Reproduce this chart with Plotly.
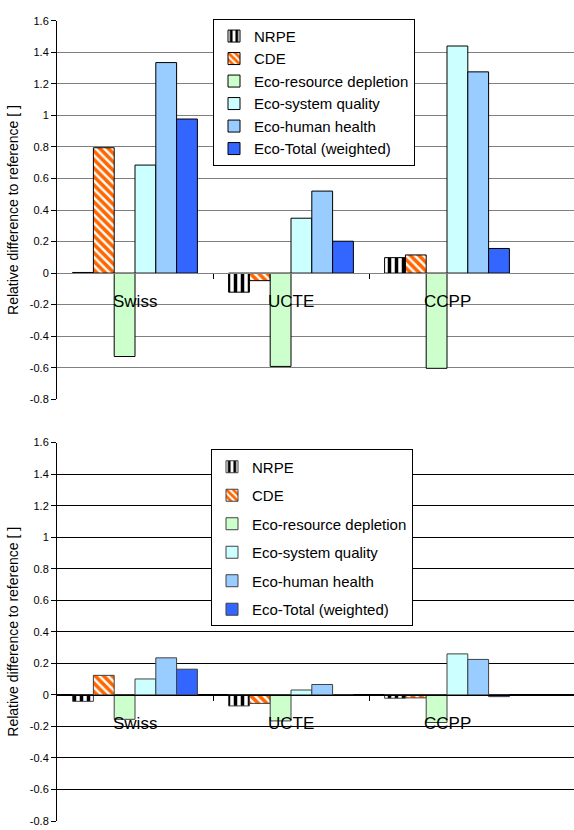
import plotly.graph_objects as go

categories = ["Swiss", "UCTE", "CCPP"]
series_names = ["NRPE", "CDE", "Eco-resource depletion", "Eco-system quality",
                "Eco-human health", "Eco-Total (weighted)"]

# top chart values (per series, Swiss/UCTE/CCPP)
top_values = {
    "NRPE": [0.004, -0.121, 0.098],
    "CDE": [0.795, -0.048, 0.115],
    "Eco-resource depletion": [-0.529, -0.592, -0.604],
    "Eco-system quality": [0.685, 0.348, 1.44],
    "Eco-human health": [1.335, 0.52, 1.276],
    "Eco-Total (weighted)": [0.977, 0.202, 0.156],
}
# bottom chart values
bottom_values = {
    "NRPE": [-0.041, -0.070, -0.021],
    "CDE": [0.124, -0.054, -0.019],
    "Eco-resource depletion": [-0.155, -0.165, -0.175],
    "Eco-system quality": [0.101, 0.031, 0.260],
    "Eco-human health": [0.235, 0.066, 0.225],
    "Eco-Total (weighted)": [0.163, -0.003, -0.011],
}
y_ticks = [-0.8, -0.6, -0.4, -0.2, 0, 0.2, 0.4, 0.6, 0.8, 1, 1.2, 1.4, 1.6]

styles = {
    "NRPE": dict(color="white", pattern=dict(shape="|", fgcolor="black", bgcolor="white",
                                            size=7, solidity=0.5, fillmode="replace")),
    "CDE": dict(color="white", pattern=dict(shape="\\", fgcolor="#FF6600", bgcolor="white",
                                           size=6, solidity=0.6, fillmode="replace")),
    "Eco-resource depletion": dict(color="#CCFFCC"),
    "Eco-system quality": dict(color="#CCFFFF"),
    "Eco-human health": dict(color="#99CCFF"),
    "Eco-Total (weighted)": dict(color="#3366FF"),
}

W, H = 574, 830
xs = list(range(len(categories)))
fig = go.Figure()

panels = [
    dict(vals=top_values, xa="x", ya="y", legend="legend", top=15, bot=399,
         grid="#808080", outline="black", zl="#808080"),
    dict(vals=bottom_values, xa="x2", ya="y2", legend="legend2", top=443, bot=827,
         grid="black", outline="#404040", zl="black"),
]

for pi, p in enumerate(panels):
    for i, name in enumerate(series_names):
        st = dict(styles[name])
        fig.add_trace(go.Bar(
            x=xs, y=p["vals"][name], name=name,
            xaxis=p["xa"], yaxis=p["ya"], legend=p["legend"],
            legendgroup=f"g{pi}{i}",
            marker=dict(**st, line=dict(color=p["outline"], width=1)),
            hoverinfo="skip",
        ))
    for j, c in enumerate(categories):
        fig.add_annotation(x=xs[j], y=-0.18, xref=p["xa"], yref=p["ya"], text=c,
                           showarrow=False, font=dict(size=17, color="black",
                                                      family="Liberation Sans, Arial"))

x0 = 57 / W
ymin, ymax = -0.8, 1.6
layout = {}
for pi, p in enumerate(panels):
    d0 = 1 - p["bot"] / H
    d1 = 1 - p["top"] / H
    pos0 = d0 + (0 - ymin) / (ymax - ymin) * (d1 - d0)
    sfx = "" if pi == 0 else "2"
    layout["xaxis" + sfx] = dict(
        domain=[x0, 1], range=[-0.5, 2.5 + 49 / 156], anchor="free", position=pos0,
        showline=True, linecolor=p["zl"], linewidth=1, showgrid=False, zeroline=False,
        tickvals=[0.5, 1.5], ticks="outside", ticklen=5, tickcolor="black",
        showticklabels=False, fixedrange=True,
    )
    layout["yaxis" + sfx] = dict(
        domain=[d0, d1], range=[ymin, ymax], anchor="x" + sfx if sfx else "x",
        tickvals=y_ticks, ticktext=[("%g" % v) for v in y_ticks],
        ticks="outside", ticklen=5, tickcolor="black",
        showline=True, linecolor="black", linewidth=1,
        showgrid=True, gridcolor=p["grid"], gridwidth=1, zeroline=False,
        tickfont=dict(size=11, color="black"),
        title=dict(text="Relative difference to reference [ ]",
                   font=dict(size=14, color="black"), standoff=7),
    )

fig.update_layout(
    width=W, height=H, margin=dict(l=0, r=0, t=0, b=0),
    paper_bgcolor="white", plot_bgcolor="white",
    font=dict(family="Liberation Sans, Arial", color="black"),
    barmode="group", bargap=0.2, bargroupgap=0,
    showlegend=True,
    legend=dict(x=213 / W, y=1 - 13 / H, xanchor="left", yanchor="top",
                bgcolor="white", bordercolor="black", borderwidth=1,
                font=dict(size=15), tracegroupgap=0, itemclick=False),
    legend2=dict(x=211 / W, y=1 - 450 / H, xanchor="left", yanchor="top",
                 bgcolor="white", bordercolor="black", borderwidth=1,
                 font=dict(size=15), tracegroupgap=6, itemclick=False),
    **layout,
)

fig.write_html("out.html")
